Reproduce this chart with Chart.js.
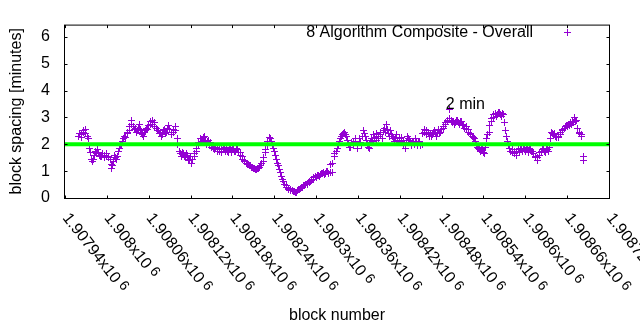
<!DOCTYPE html>
<html>
<head>
<meta charset="utf-8">
<script src="https://cdn.jsdelivr.net/npm/chart.js@4.4.1/dist/chart.umd.min.js"></script>
<style>
  html, body { margin: 0; padding: 0; background: #fff; }
  #wrap { width: 640px; height: 330px; }
</style>
</head>
<body>
<div id="wrap"><canvas id="c" width="640" height="330"></canvas></div>
<script>
// Block heights and the spacing (minutes) measured for each sampled block
const blocks = [
  1907960, 1907961, 1907963, 1907964, 1907966, 1907967, 1907969, 1907970, 1907972, 1907973,
  1907975, 1907976, 1907978, 1907979, 1907981, 1907982, 1907984, 1907985, 1907987, 1907988,
  1907990, 1907991, 1907993, 1907994, 1907996, 1907997, 1907999, 1908000, 1908002, 1908003,
  1908005, 1908006, 1908007, 1908008, 1908009, 1908011, 1908012, 1908014, 1908015, 1908017,
  1908018, 1908020, 1908021, 1908023, 1908024, 1908026, 1908027, 1908029, 1908030, 1908032,
  1908033, 1908035, 1908036, 1908038, 1908039, 1908041, 1908042, 1908044, 1908045, 1908047,
  1908048, 1908050, 1908051, 1908053, 1908054, 1908056, 1908057, 1908059, 1908060, 1908062,
  1908063, 1908065, 1908066, 1908068, 1908069, 1908071, 1908072, 1908074, 1908075, 1908077,
  1908078, 1908080, 1908081, 1908083, 1908084, 1908086, 1908087, 1908089, 1908090, 1908092,
  1908093, 1908095, 1908096, 1908098, 1908099, 1908101, 1908102, 1908104, 1908105, 1908107,
  1908108, 1908110, 1908111, 1908113, 1908114, 1908116, 1908117, 1908119, 1908120, 1908122,
  1908123, 1908125, 1908126, 1908128, 1908129, 1908131, 1908132, 1908134, 1908135, 1908137,
  1908138, 1908140, 1908141, 1908143, 1908144, 1908146, 1908147, 1908149, 1908150, 1908152,
  1908153, 1908155, 1908156, 1908158, 1908159, 1908161, 1908162, 1908164, 1908165, 1908167,
  1908168, 1908170, 1908171, 1908173, 1908174, 1908176, 1908177, 1908179, 1908180, 1908182,
  1908183, 1908185, 1908186, 1908188, 1908189, 1908191, 1908192, 1908194, 1908195, 1908197,
  1908198, 1908200, 1908201, 1908203, 1908204, 1908206, 1908207, 1908209, 1908210, 1908212,
  1908213, 1908215, 1908216, 1908218, 1908219, 1908221, 1908222, 1908224, 1908225, 1908227,
  1908228, 1908230, 1908231, 1908233, 1908234, 1908236, 1908237, 1908239, 1908240, 1908242,
  1908243, 1908245, 1908246, 1908248, 1908249, 1908251, 1908252, 1908254, 1908255, 1908257,
  1908258, 1908260, 1908261, 1908263, 1908264, 1908266, 1908267, 1908269, 1908270, 1908272,
  1908273, 1908275, 1908276, 1908278, 1908279, 1908281, 1908282, 1908284, 1908285, 1908287,
  1908288, 1908290, 1908291, 1908293, 1908294, 1908296, 1908297, 1908299, 1908300, 1908302,
  1908303, 1908305, 1908306, 1908308, 1908309, 1908311, 1908312, 1908314, 1908315, 1908317,
  1908318, 1908320, 1908321, 1908323, 1908324, 1908326, 1908327, 1908329, 1908330, 1908332,
  1908333, 1908335, 1908336, 1908338, 1908339, 1908341, 1908342, 1908344, 1908345, 1908347,
  1908348, 1908350, 1908351, 1908353, 1908354, 1908356, 1908357, 1908359, 1908360, 1908362,
  1908363, 1908365, 1908366, 1908368, 1908369, 1908371, 1908372, 1908374, 1908375, 1908377,
  1908378, 1908380, 1908381, 1908383, 1908384, 1908386, 1908387, 1908389, 1908390, 1908392,
  1908393, 1908395, 1908396, 1908398, 1908399, 1908401, 1908402, 1908404, 1908405, 1908407,
  1908408, 1908410, 1908411, 1908413, 1908414, 1908416, 1908417, 1908419, 1908420, 1908422,
  1908423, 1908425, 1908426, 1908428, 1908429, 1908431, 1908432, 1908434, 1908435, 1908437,
  1908438, 1908440, 1908441, 1908443, 1908444, 1908446, 1908447, 1908449, 1908450, 1908452,
  1908453, 1908455, 1908456, 1908458, 1908459, 1908461, 1908462, 1908464, 1908465, 1908467,
  1908468, 1908470, 1908471, 1908473, 1908474, 1908476, 1908477, 1908479, 1908480, 1908482,
  1908483, 1908485, 1908486, 1908488, 1908489, 1908491, 1908492, 1908494, 1908495, 1908497,
  1908498, 1908500, 1908501, 1908503, 1908504, 1908506, 1908507, 1908509, 1908510, 1908512,
  1908513, 1908515, 1908516, 1908518, 1908519, 1908521, 1908522, 1908524, 1908525, 1908527,
  1908528, 1908530, 1908531, 1908533, 1908534, 1908536, 1908537, 1908539, 1908540, 1908542,
  1908543, 1908545, 1908546, 1908548, 1908549, 1908551, 1908552, 1908554, 1908555, 1908557,
  1908558, 1908560, 1908561, 1908563, 1908564, 1908566, 1908567, 1908569, 1908570, 1908572,
  1908573, 1908575, 1908576, 1908578, 1908579, 1908581, 1908582, 1908584, 1908585, 1908587,
  1908588, 1908590, 1908591, 1908593, 1908594, 1908596, 1908597, 1908599, 1908600, 1908602,
  1908603, 1908605, 1908606, 1908608, 1908609, 1908611, 1908612, 1908614, 1908615, 1908617,
  1908618, 1908620, 1908621, 1908623, 1908624, 1908626, 1908627, 1908629, 1908630, 1908632,
  1908633, 1908635, 1908636, 1908638, 1908639, 1908641, 1908642, 1908644, 1908645, 1908647,
  1908648, 1908650, 1908651, 1908653, 1908654, 1908656, 1908657, 1908659, 1908660, 1908662,
  1908663, 1908665, 1908666, 1908668, 1908669, 1908671, 1908672, 1908674, 1908675, 1908677,
  1908678, 1908680, 1908681, 1908683, 1908684
];
const spacingMinutes = [
  2.30, 2.40, 2.35, 2.25, 2.45, 2.50, 2.40, 2.55, 2.30, 2.20,
  1.85, 1.70, 1.45, 1.35, 1.45, 1.60, 1.75, 1.65, 1.80, 1.70,
  1.60, 1.55, 1.55, 1.65, 1.50, 1.60, 1.65, 1.55, 1.55, 1.50,
  1.45, 1.25, 1.10, 1.20, 1.35, 1.60, 1.50, 1.45, 1.55, 1.75,
  1.85, 1.95, 2.00, 2.10, 2.20, 2.30, 2.25, 2.45, 2.40, 2.50,
  2.65, 2.90, 2.75, 2.65, 2.55, 2.60, 2.45, 2.50, 2.60, 2.75,
  2.55, 2.40, 2.35, 2.30, 2.45, 2.50, 2.60, 2.55, 2.70, 2.75,
  2.85, 2.90, 2.75, 2.80, 2.65, 2.60, 2.50, 2.50, 2.40, 2.45,
  2.30, 2.35, 2.50, 2.55, 2.40, 2.45, 2.60, 2.70, 2.55, 2.35,
  2.45, 2.55, 2.45, 2.65, 2.50, 2.20, 2.00, 1.75, 1.65, 1.55,
  1.70, 1.65, 1.55, 1.50, 1.65, 1.60, 1.45, 1.40, 1.55, 1.30,
  1.45, 1.55, 1.65, 1.75, 1.85, 1.95, 2.05, 2.20, 2.05, 2.10,
  2.25, 2.30, 2.15, 2.00, 2.10, 2.15, 1.95, 2.05, 1.90, 1.95,
  1.85, 1.80, 1.90, 1.75, 1.85, 1.85, 1.75, 1.70, 1.80, 1.80,
  1.90, 1.75, 1.85, 1.75, 1.70, 1.80, 1.90, 1.70, 1.80, 1.85,
  1.75, 1.75, 1.85, 1.80, 1.70, 1.70, 1.60, 1.55, 1.45, 1.40,
  1.35, 1.30, 1.25, 1.25, 1.20, 1.20, 1.15, 1.15, 1.10, 1.10,
  1.05, 1.05, 1.10, 1.10, 1.15, 1.20, 1.30, 1.35, 1.50, 1.70,
  1.80, 1.95, 2.10, 2.25, 2.20, 2.10, 2.00, 1.85, 1.75, 1.60,
  1.45, 1.30, 1.20, 1.05, 0.95, 0.80, 0.70, 0.60, 0.50, 0.45,
  0.40, 0.35, 0.32, 0.30, 0.27, 0.28, 0.25, 0.25, 0.22, 0.22,
  0.28, 0.30, 0.33, 0.35, 0.38, 0.40, 0.45, 0.45, 0.50, 0.50,
  0.55, 0.60, 0.58, 0.65, 0.68, 0.70, 0.75, 0.80, 0.78, 0.85,
  0.82, 0.80, 0.88, 0.90, 0.92, 0.95, 0.88, 0.90, 0.98, 1.00,
  0.92, 1.25, 0.95, 0.95, 1.30, 1.55, 1.65, 1.75, 1.85, 1.95,
  2.10, 2.20, 2.30, 2.35, 2.40, 2.45, 2.35, 2.30, 2.15, 2.00,
  1.90, 1.90, 2.05, 2.05, 1.95, 2.10, 2.20, 1.85, 1.95, 2.20,
  2.05, 1.95, 2.30, 2.50, 2.40, 2.30, 2.15, 2.00, 1.90, 1.85,
  2.05, 2.20, 2.10, 2.35, 2.25, 2.15, 2.40, 2.30, 2.20, 2.45,
  2.35, 2.20, 2.50, 2.60, 2.45, 2.75, 2.55, 2.40, 2.30, 2.50,
  2.35, 2.30, 2.20, 2.10, 2.25, 2.35, 2.15, 2.05, 2.20, 2.25,
  2.10, 2.00, 2.15, 1.85, 2.05, 2.30, 2.20, 2.15, 2.05, 1.95,
  2.10, 2.05, 2.00, 2.20, 2.05, 1.95, 2.05, 2.10, 1.95, 2.00,
  2.40, 2.55, 2.45, 2.50, 2.35, 2.45, 2.30, 2.40, 2.30, 2.35,
  2.45, 2.50, 2.40, 2.30, 2.45, 2.55, 2.40, 2.45, 2.55, 2.60,
  2.65, 2.75, 2.80, 2.85, 2.90, 3.30, 2.95, 2.90, 2.80, 2.85,
  2.75, 2.80, 2.90, 2.90, 2.80, 2.75, 2.85, 2.85, 2.75, 2.70,
  2.60, 2.65, 2.55, 2.55, 2.45, 2.40, 2.35, 2.30, 2.25, 2.20,
  2.10, 2.00, 1.90, 1.85, 1.80, 1.75, 1.85, 1.80, 1.70, 1.65,
  1.90, 2.20, 2.35, 2.45, 2.70, 2.85, 2.95, 3.00, 3.10, 3.15,
  3.05, 3.10, 3.20, 3.20, 3.10, 3.05, 3.15, 3.10, 2.80, 2.50,
  2.30, 2.10, 1.95, 1.85, 1.75, 1.70, 1.80, 1.75, 1.65, 1.60,
  1.75, 1.80, 1.70, 1.85, 1.80, 1.75, 1.85, 1.80, 1.75, 1.90,
  1.80, 1.70, 1.85, 1.80, 1.75, 1.75, 1.65, 1.55, 1.50, 1.40,
  1.50, 1.60, 1.70, 1.75, 1.80, 1.85, 1.75, 1.70, 1.85, 1.80,
  1.75, 1.90, 2.20, 2.45, 2.40, 2.35, 2.40, 2.30, 2.25, 2.25,
  2.30, 2.35, 2.45, 2.50, 2.55, 2.60, 2.65, 2.70, 2.65, 2.75,
  2.70, 2.80, 2.75, 2.85, 2.80, 3.00, 2.85, 2.90, 2.60, 2.40,
  2.45, 2.30, 2.35, 1.55, 1.40
];

const xTickValues = [
  1907940, 1908000, 1908060, 1908120, 1908180, 1908240, 1908300,
  1908360, 1908420, 1908480, 1908540, 1908600, 1908660, 1908720
];
// mantissa part of each x tick label, followed by the x10 power
const xTickMantissas = [
  '1.90794', '1.908', '1.90806', '1.90812', '1.90818', '1.90824', '1.9083',
  '1.90836', '1.90842', '1.90848', '1.90854', '1.9086', '1.90866', '1.90872'
];
const xTickExponent = '6';
const yTickValues = [0, 1, 2, 3, 4, 5, 6];

const targetMinutes = 2;
const seriesName = '8 Algorithm Composite - Overall';
const targetNote = '2 min';
const targetNoteAt = { x: 1908486, y: 3.3 };

const FONT = '"Liberation Sans", Arial, sans-serif';
const PURPLE = '#9400d3';
const GREEN = '#00ff00';
const LABEL_ANGLE = 52 * Math.PI / 180;

const points = blocks.map((b, i) => ({ x: b, y: spacingMinutes[i] }));

// Snap the cross markers to the pixel grid so their 1px strokes stay crisp
const crispMarkers = {
  id: 'crispMarkers',
  beforeDatasetDraw(chart, args) {
    if (args.meta.type === 'line') return;
    args.meta.data.forEach(el => {
      el.x = Math.floor(el.x) + 0.5;
      el.y = Math.floor(el.y) + 0.5;
    });
  }
};

// Box border, inward mirrored ticks, slanted x labels, key and note
const framePlugin = {
  id: 'frame',
  afterDraw(chart) {
    const { ctx, chartArea: a, scales: { x, y } } = chart;
    ctx.save();
    ctx.strokeStyle = '#000';
    ctx.lineWidth = 1;
    const L = a.left - 0.5, R = a.right + 0.5, T = a.top + 0.5, B = a.bottom + 0.5;
    ctx.strokeRect(L, T, R - L, B - T);
    const tick = 3;
    ctx.beginPath();
    xTickValues.forEach(v => {
      const px = Math.round(x.getPixelForValue(v)) + 0.5;
      ctx.moveTo(px, B); ctx.lineTo(px, B - tick);
      ctx.moveTo(px, T); ctx.lineTo(px, T + tick);
    });
    yTickValues.forEach(v => {
      const py = Math.round(y.getPixelForValue(v)) + 0.5;
      ctx.moveTo(L, py); ctx.lineTo(L + tick, py);
      ctx.moveTo(R, py); ctx.lineTo(R - tick, py);
    });
    ctx.stroke();

    ctx.fillStyle = '#000';
    ctx.textAlign = 'left';
    ctx.textBaseline = 'alphabetic';
    xTickValues.forEach((v, i) => {
      const px = x.getPixelForValue(v);
      ctx.save();
      ctx.translate(px - 3, a.bottom + 20);
      ctx.rotate(LABEL_ANGLE);
      ctx.font = '16px ' + FONT;
      const base = xTickMantissas[i] + 'x10';
      ctx.fillText(base, 0, 0);
      const w = ctx.measureText(base).width;
      ctx.font = '14px ' + FONT;
      ctx.fillText(xTickExponent, w + 4, -3);
      ctx.restore();
    });

    // key
    ctx.font = '16px ' + FONT;
    ctx.textAlign = 'right';
    ctx.fillText(seriesName, 533, 37);
    ctx.strokeStyle = PURPLE;
    ctx.beginPath();
    ctx.moveTo(564, 32.5); ctx.lineTo(571, 32.5);
    ctx.moveTo(567.5, 29); ctx.lineTo(567.5, 36);
    ctx.stroke();

    // target note
    ctx.textAlign = 'left';
    ctx.fillText(targetNote, x.getPixelForValue(targetNoteAt.x), y.getPixelForValue(targetNoteAt.y));
    ctx.restore();
  }
};

new Chart(document.getElementById('c'), {
  type: 'scatter',
  data: {
    datasets: [
      {
        type: 'line',
        label: targetNote,
        data: [
          { x: xTickValues[0], y: targetMinutes },
          { x: xTickValues[xTickValues.length - 1], y: targetMinutes }
        ],
        borderColor: GREEN,
        borderWidth: 4,
        pointRadius: 0,
        fill: false,
        order: 0
      },
      {
        label: seriesName,
        data: points,
        pointStyle: 'cross',
        pointRadius: 3.5,
        borderWidth: 1,
        borderColor: PURPLE,
        backgroundColor: PURPLE,
        showLine: false,
        order: 1
      }
    ]
  },
  options: {
    responsive: false,
    animation: false,
    devicePixelRatio: 1,
    events: [],
    layout: { padding: { top: 20, right: 31, left: 0, bottom: 0 } },
    plugins: { legend: { display: false }, tooltip: { enabled: false } },
    scales: {
      x: {
        type: 'linear',
        min: 1907940,
        max: 1908720,
        grid: { display: false, drawTicks: false },
        border: { display: false },
        ticks: { display: false },
        afterBuildTicks: axis => { axis.ticks = xTickValues.map(v => ({ value: v })); },
        afterFit: axis => { axis.height = 132; },
        title: {
          display: true,
          text: 'block number',
          color: '#000',
          font: { family: FONT, size: 16 },
          padding: { top: 0, bottom: 5 }
        }
      },
      y: {
        min: 0,
        max: 6.46,
        grid: { display: false, drawTicks: false },
        border: { display: false },
        afterBuildTicks: axis => { axis.ticks = yTickValues.map(v => ({ value: v })); },
        afterFit: axis => { axis.width = 65; },
        ticks: {
          color: '#000',
          font: { family: FONT, size: 16 },
          padding: 15
        },
        title: {
          display: true,
          text: 'block spacing [minutes]',
          color: '#000',
          font: { family: FONT, size: 16 },
          padding: { top: 7, bottom: 0 }
        }
      }
    }
  },
  plugins: [crispMarkers, framePlugin]
});
</script>
</body>
</html>
